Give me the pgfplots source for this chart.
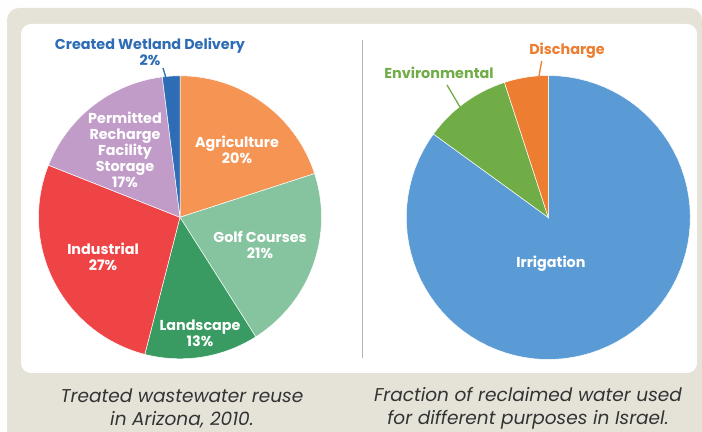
\documentclass[border=0pt]{standalone}
\usepackage{pgfplots}
\pgfplotsset{compat=1.18}
\usepackage{pgfplotstable}
\usepackage{fontspec}
\setmainfont{Poppins}
\definecolor{cAgri}{HTML}{F69454}
\definecolor{cGolf}{HTML}{86C39F}
\definecolor{cLand}{HTML}{399B62}
\definecolor{cInd}{HTML}{EF4446}
\definecolor{cRech}{HTML}{C29CC8}
\definecolor{cWet}{HTML}{2E6DB5}
\definecolor{cIrr}{HTML}{5B9BD5}
\definecolor{cEnv}{HTML}{70AD47}
\definecolor{cDis}{HTML}{ED7D31}
\definecolor{beige}{HTML}{E5E2D8}
\definecolor{captxt}{HTML}{333333}
\definecolor{divider}{HTML}{B5B5B5}
\definecolor{bgwhite}{HTML}{FEFEFE}

\pgfplotstableread{
name value color
Agriculture 20 cAgri
Golf 21 cGolf
Landscape 13 cLand
Industrial 27 cInd
Recharge 17 cRech
Wetland 2 cWet
}\arizona
\pgfplotstableread{
name value color
Irrigation 85 cIrr
Environmental 10 cEnv
Discharge 5 cDis
}\israel

\newcommand{\drawpie}[4]{%
  \pgfplotstablegetrowsof{#1}%
  \pgfmathtruncatemacro{\nrows}{\pgfplotsretval-1}%
  \def\cum{0}%
  \pgfplotsforeachungrouped \i in {0,...,\nrows}{%
    \pgfplotstablegetelem{\i}{value}\of{#1}\let\sliceval\pgfplotsretval
    \pgfplotstablegetelem{\i}{color}\of{#1}\let\slicecol\pgfplotsretval
    \pgfmathsetmacro{\angA}{90-3.6*(\cum+\sliceval)}%
    \pgfmathsetmacro{\angB}{90-3.6*\cum}%
    \pgfmathsetmacro{\cum}{\cum+\sliceval}%
    \edef\doit{\noexpand\addplot[fill=\slicecol, draw=white, line width=0.5pt, mark=none, domain=\angA:\angB, samples=80] ({#2+#4*cos(x)},{#3+#4*sin(x)}) -- (axis cs:#2,#3) -- cycle;}%
    \doit
  }%
}

\begin{document}
\begin{tikzpicture}
\begin{axis}[width=702bp,height=432bp,scale only axis,
  xmin=0,xmax=702,ymin=0,ymax=432,hide axis,clip=false]
% background panels
\fill[bgwhite] (axis cs:0,0) rectangle (axis cs:702,432);
\fill[beige] (axis cs:702,0) -- (axis cs:7,0) [rounded corners=12bp] -- (axis cs:7,424) -- (axis cs:702,424) [sharp corners] -- cycle;
\fill[white, rounded corners=10bp] (axis cs:21,59) rectangle (axis cs:697,408);
\draw[divider, line width=0.8bp] (axis cs:362,74) -- (axis cs:362,392);

% pies
\drawpie{\arizona}{180}{214.7}{141.5}
\drawpie{\israel}{548.3}{214.5}{142}

% labels
\begin{scope}[every node/.style={align=center, font=\bfseries\fontsize{14.4}{16}\selectfont, text=white, inner sep=0pt}]
\node at (axis cs:237,282.5) {Agriculture\\20\%};
\node at (axis cs:260,187) {Golf Courses\\21\%};
\node at (axis cs:200,98.5) {Landscape\\13\%};
\node at (axis cs:103,175.5) {Industrial\\27\%};
\node at (axis cs:125,282) {Permitted\\Recharge\\Facility\\Storage\\17\%};
\node[text=cWet] at (axis cs:150,380) {Created Wetland Delivery\\2\%};
\node at (axis cs:551,168) {Irrigation};
\node[text=cDis] at (axis cs:567,381) {Discharge};
\node[text=cEnv] at (axis cs:439,359) {Environmental};
\end{scope}
\draw[cWet, line width=1.3bp] (axis cs:163,364) -- (axis cs:165.7,355);
\draw[cDis, line width=1.3bp] (axis cs:541.7,371) -- (axis cs:539,356);
\draw[cEnv, line width=1.3bp] (axis cs:447,347) -- (axis cs:460,325);

% captions
\begin{scope}[every node/.style={align=center, font=\itshape\fontsize{18.6}{23}\selectfont, text=captxt, inner sep=0pt}]
\node at (axis cs:182,23.5) {Treated wastewater reuse\\in Arizona, 2010.};
\node at (axis cs:528,23.5) {Fraction of reclaimed water used\\for different purposes in Israel.};
\end{scope}
\end{axis}
\end{tikzpicture}
\end{document}
